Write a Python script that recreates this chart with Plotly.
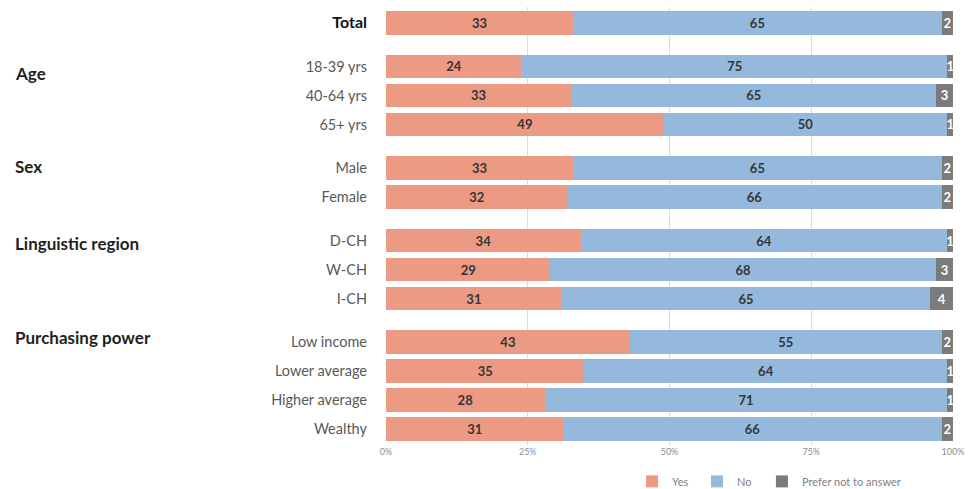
import plotly.graph_objects as go

# Survey breakdown: Yes / No / Prefer not to answer, by respondent group
groups = ["", "Age", "Sex", "Linguistic region", "Purchasing power"]
group_rows = [
    ["Total"],
    ["18-39 yrs", "40-64 yrs", "65+ yrs"],
    ["Male", "Female"],
    ["D-CH", "W-CH", "I-CH"],
    ["Low income", "Lower average", "Higher average", "Wealthy"],
]
yes = [33, 24, 33, 49, 33, 32, 34, 29, 31, 43, 35, 28, 31]
no = [65, 75, 65, 50, 65, 66, 64, 68, 65, 55, 64, 71, 66]
prefer_not = [2, 1, 3, 1, 2, 2, 1, 3, 4, 2, 1, 1, 2]
series_names = ["Yes", "No", "Prefer not to answer"]
x_ticks = [0, 25, 50, 75, 100]

# Row positions: one unit per row, an extra half unit between groups
positions, labels, group_label_pos = [], [], []
pos = 0.0
for gi, rows in enumerate(group_rows):
    if gi > 0:
        pos += 0.5
    group_label_pos.append(pos)
    for r in rows:
        positions.append(pos)
        labels.append(r)
        pos += 1.0

tick_text = [
    '<span style="color:#111111;font-size:16px"><b>%s</b></span>' % l if l == "Total" else l
    for l in labels
]

colors = ["#EC9A83", "#94B9DC", "#7B7B7B"]
text_colors = ["#363636", "#363636", "#ffffff"]
legend_ids = ["legend", "legend2", "legend3"]
legend_x = [0.434, 0.5485, 0.663]

fig = go.Figure()
for name, vals, c, tc, lg in zip(series_names, [yes, no, prefer_not], colors, text_colors, legend_ids):
    fig.add_trace(go.Bar(
        name=name, y=positions, x=vals, orientation="h",
        marker=dict(color=c, line=dict(width=0)),
        width=0.8,
        text=[str(v) for v in vals], texttemplate="<b>%{text}</b>",
        textposition="inside", insidetextanchor="middle",
        textfont=dict(color=tc, size=13, family="Lato"),
        hoverinfo="skip", legend=lg,
    ))

# Group headings on the left
label_offsets = [0, 0.25, -0.05, 0.1, -0.15]
for g, p, off in zip(groups, group_label_pos, label_offsets):
    if not g:
        continue
    fig.add_annotation(
        x=-0.658, xref="paper", xanchor="left",
        y=p + off, yref="y", yanchor="middle",
        text="<b>%s</b>" % g, showarrow=False,
        font=dict(size=17, color="#1f1f1f", family="Lato"),
    )

# One legend box per series so the entries sit evenly spaced
for lg, lx in zip(legend_ids, legend_x):
    fig.update_layout({lg: dict(
        orientation="h", x=lx, xanchor="left", y=-0.05, yanchor="top",
        font=dict(size=11, color="#7f7f7f"), itemwidth=30,
        bgcolor="rgba(0,0,0,0)",
    )})

fig.update_layout(
    width=968, height=489,
    margin=dict(l=386, r=15, t=7, b=44, autoexpand=False),
    barmode="stack", barnorm="percent",
    plot_bgcolor="white", paper_bgcolor="white",
    font=dict(family="Lato", color="#595959"),
    uniformtext=dict(minsize=13, mode="show"),
    showlegend=True,
    xaxis=dict(
        range=[0, 100], tickvals=x_ticks, ticktext=["%d%%" % t for t in x_ticks],
        showgrid=True, gridcolor="#dcdcdc", gridwidth=1, zeroline=False,
        tickfont=dict(size=9, color="#8c8c8c"), ticks="", showline=False,
    ),
    yaxis=dict(
        range=[14.55, -0.55], tickvals=positions, ticktext=tick_text,
        tickfont=dict(size=14.5, color="#595959"), showgrid=False,
        zeroline=False, ticks="", ticklabelstandoff=18,
    ),
)

fig.write_html("out.html")
